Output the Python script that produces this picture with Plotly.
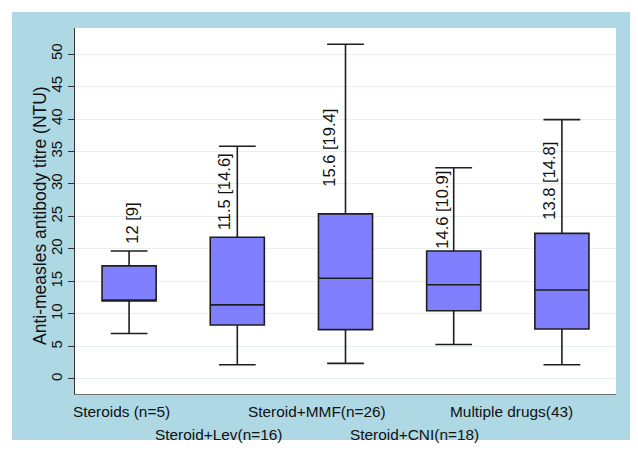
import plotly.graph_objects as go

# ---------------- data ----------------
categories = ["Steroids (n=5)", "Steroid+Lev(n=16)", "Steroid+MMF(n=26)",
              "Steroid+CNI(n=18)", "Multiple drugs(43)"]
lower_whisker = [7.0, 2.2, 2.4, 5.3, 2.2]
q1_values = [12.0, 8.3, 7.6, 10.5, 7.7]
median_values = [12.0, 11.4, 15.5, 14.5, 13.7]
q3_values = [17.4, 21.8, 25.4, 19.7, 22.4]
upper_whisker = [19.7, 35.8, 51.5, 32.5, 39.9]
median_labels = ["12 [9]", "11.5 [14.6]", "15.6 [19.4]", "14.6 [10.9]", "13.8 [14.8]"]
y_ticks = [0, 5, 10, 15, 20, 25, 30, 35, 40, 45, 50]

# ---------------- style / layout ----------------
# page body has an 8px default margin, so the figure is 8px smaller and offset
OFF = 8
W, H = 638 - OFF, 452 - OFF
ML, MR, MT, MB = 75 - OFF, 22, 28 - OFF, 58
PW, PH = W - ML - MR, H - MT - MB
FONT = "Liberation Sans, Arial, sans-serif"
label_y = [23.9, 28.8, 35.5, 26.0, 30.5]
label_dx = [3, -14, -16, -12, -13]


def px_x(p):
    return (p - OFF - ML) / PW


def px_y(p):
    return (H - MB - (p - OFF)) / PH


fig = go.Figure()
fig.add_trace(go.Box(
    x=categories,
    q1=q1_values, median=median_values, q3=q3_values,
    lowerfence=lower_whisker, upperfence=upper_whisker,
    boxpoints=False,
    fillcolor="#8080FF",
    line=dict(color="#1e1e1e", width=1.6),
    whiskerwidth=0.68,
    width=0.5,
    showlegend=False,
    hoverinfo="skip",
))

annotations = []
for i, (c, lab) in enumerate(zip(categories, median_labels)):
    annotations.append(dict(
        x=c, y=label_y[i], xref="x", yref="y", text=lab, showarrow=False,
        textangle=-90, xanchor="center", yanchor="middle", xshift=label_dx[i],
        font=dict(family=FONT, size=16.5, color="#111111"),
    ))
    annotations.append(dict(
        x=c, y=0, xref="x", yref="paper", text=c, showarrow=False,
        xanchor="center", yanchor="middle",
        xshift=-8 - 10.5 * i, yshift=-17 if i % 2 == 0 else -40.5,
        font=dict(family=FONT, size=15.4, color="#111111"),
    ))

# y-axis title as an annotation for precise placement
annotations.append(dict(
    x=px_x(40), y=px_y(216), xref="paper", yref="paper",
    text="Anti-measles antibody titre (NTU)", showarrow=False,
    textangle=-90, xanchor="center", yanchor="middle",
    font=dict(family=FONT, size=17.5, color="#111111"),
))

shapes = [
    dict(type="rect", xref="paper", yref="paper", layer="below",
         x0=px_x(12), x1=px_x(632), y0=px_y(440), y1=px_y(12),
         fillcolor="#ADD8E4", line=dict(width=0)),
    dict(type="rect", xref="paper", yref="paper", layer="below",
         x0=0, x1=1, y0=0, y1=1, fillcolor="white", line=dict(width=0)),
]

fig.update_layout(
    width=W, height=H,
    margin=dict(l=ML, r=MR, t=MT, b=MB, pad=0),
    paper_bgcolor="white", plot_bgcolor="white",
    font=dict(family=FONT, color="#111111"),
    annotations=annotations, shapes=shapes,
    xaxis=dict(
        showticklabels=False, showgrid=False, zeroline=False, ticks="",
        showline=True, linecolor="#6e6e6e", linewidth=1,
        range=[-0.5, 4.5],
    ),
    yaxis=dict(
        range=[-2.31, 54.0], tickvals=y_ticks,
        ticktext=[str(t) for t in y_ticks],
        tickangle=-90, ticks="outside", ticklen=6, tickcolor="#333333",
        tickfont=dict(family=FONT, size=15, color="#111111"),
        showline=True, linecolor="#333333", linewidth=1,
        showgrid=True, gridcolor="#E6F0F1", gridwidth=1, zeroline=False,
        automargin=False,
    ),
)

fig.write_html("out.html")
